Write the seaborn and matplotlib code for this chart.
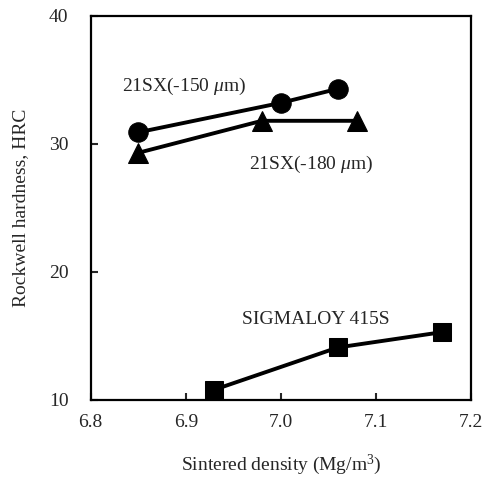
import matplotlib
matplotlib.use("Agg")
import matplotlib.pyplot as plt
import seaborn as sns
import pandas as pd

x150 = [6.85, 7.00, 7.06]
y150 = [30.9, 33.2, 34.3]
x180 = [6.85, 6.98, 7.08]
y180 = [29.3, 31.8, 31.8]
xsig = [6.93, 7.06, 7.17]
ysig = [10.8, 14.1, 15.3]
xticks = [6.8, 6.9, 7.0, 7.1, 7.2]
xticklabels = ["6.8", "6.9", "7.0", "7.1", "7.2"]
yticks = [10, 20, 30, 40]

sns.set_style("ticks")
plt.rcParams['font.family'] = ['Liberation Serif', 'DejaVu Serif']
plt.rcParams['mathtext.fontset'] = 'custom'
plt.rcParams['mathtext.rm'] = 'Liberation Serif'
plt.rcParams['mathtext.it'] = 'Liberation Serif:italic'

fig = plt.figure(figsize=(4.85, 4.79), dpi=100)
ax = fig.add_axes([0.187, 0.165, 0.784, 0.802])

series = [
    (x150, y150, "o", 14),
    (x180, y180, "^", 14),
    (xsig, ysig, "s", 13),
]
for xs, ys, m, ms in series:
    df = pd.DataFrame({"x": xs, "y": ys})
    sns.lineplot(data=df, x="x", y="y", ax=ax, color="black", linewidth=2.8,
                 marker=m, markersize=ms, markeredgecolor="black",
                 markerfacecolor="black", sort=False)

ax.set_xlim(6.8, 7.2)
ax.set_ylim(10, 40)
ax.set_xticks(xticks)
ax.set_xticklabels(xticklabels)
ax.set_yticks(yticks)
ax.tick_params(direction="in", length=5, width=1.5, labelsize=14)
ax.tick_params(axis="x", pad=10)
ax.tick_params(axis="y", pad=16)
for s in ax.spines.values():
    s.set_linewidth(1.6)
    s.set_visible(True)
    s.set_color("black")

ax.set_xlabel("Sintered density (Mg/m$^3$)", fontsize=14, labelpad=16)
ax.set_ylabel("Rockwell hardness, HRC", fontsize=14, labelpad=14)

ax.text(6.833, 34.45, "21SX(-150 $\\mu$m)", fontsize=14, ha="left", va="center")
ax.text(6.967, 28.4, "21SX(-180 $\\mu$m)", fontsize=14, ha="left", va="center")
ax.text(6.959, 16.25, "SIGMALOY 415S", fontsize=14, ha="left", va="center")

fig.savefig("out.png", dpi=100)
